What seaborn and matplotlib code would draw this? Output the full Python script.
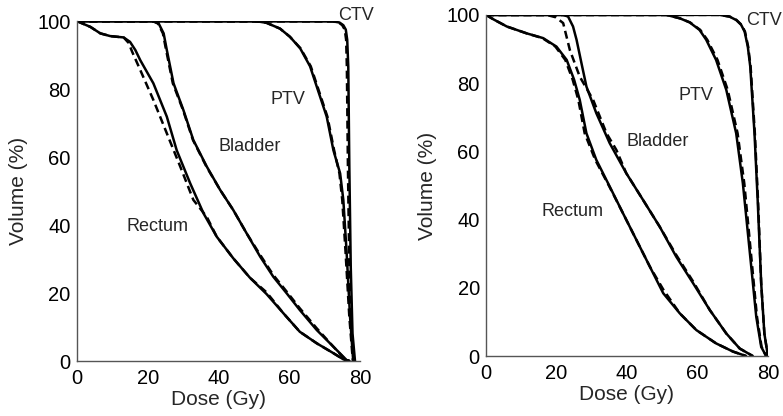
import numpy as np
import pandas as pd
import seaborn as sns
import matplotlib.pyplot as plt

sns.set_theme(style="white")
plt.rcParams['font.family'] = ['Liberation Sans', 'DejaVu Sans']

# ---- left panel (dose in Gy, volume in %) ----
L_rectum_x = [0, 3.8, 6.6, 9.4, 13.2, 15, 16.5, 17.9, 21.6, 25.4, 28.2, 32, 35.8, 39.5, 44.2, 48.9, 53.6, 58.4, 63, 67.8, 72.5, 75.3, 77]
L_rectum_y = [100, 98.3, 96.4, 95.6, 95.2, 93.9, 91.5, 88.5, 81.7, 71.9, 62, 52.3, 43.4, 36.6, 30.2, 24.5, 19.7, 14, 8.6, 5.2, 2.3, 0.5, 0]
L_rectum_dx = [0, 3.8, 6.6, 9.4, 13.2, 14.6, 15.6, 17.9, 21.6, 25.4, 29.2, 32.9, 36.7, 39.5, 44.2, 48.9, 53.6, 58.4, 63, 67.8, 72.5, 75.3, 77]
L_rectum_dy = [100, 98.3, 96.4, 95.6, 95.2, 93.6, 91, 85.6, 76.8, 67, 57.2, 47.4, 42.4, 36.6, 30.2, 24.5, 20.2, 14, 8.6, 5.2, 2.3, 0.5, 0]

L_bladder_x = [0, 21.6, 23.1, 24.5, 25.4, 27.3, 30.1, 32.9, 36.7, 40.5, 44.2, 48, 51.8, 55.5, 59.3, 63, 67.8, 72.5, 76.2, 77]
L_bladder_y = [100, 100, 99.3, 96.4, 91.5, 81.7, 73.8, 65, 57.2, 50.3, 44.4, 37.5, 30.7, 24.8, 19.9, 15, 9.1, 4.2, 0.3, 0]
L_bladder_dx = [0, 21.4, 22.9, 24.3, 25.2, 27.1, 30, 32.8, 36.6, 40.5, 44.2, 48, 51.8, 55.5, 59.3, 63, 67.8, 72.5, 76, 77]
L_bladder_dy = [100, 100, 99.3, 96.4, 91.5, 81.7, 73.8, 65, 57.2, 50.3, 44.4, 37.5, 31.2, 25.3, 20.4, 15.5, 9.6, 4.2, 0.3, 0]

L_ptv_x = [0, 49.9, 51.8, 53.6, 57.4, 60.2, 63.1, 65.9, 67.8, 70.6, 72.5, 74.4, 75.3, 76.2, 77.2, 78.1]
L_ptv_y = [100, 100, 99.8, 99.5, 97.8, 95.4, 92, 86.7, 80.7, 71.9, 62, 55.2, 47.4, 32.6, 13, 0]
L_ptv_dx = [0, 49.9, 51.8, 53.6, 57.4, 60.2, 63.2, 66.1, 68, 70.8, 72.7, 74.2, 75, 75.9, 77, 78]
L_ptv_dy = [100, 100, 99.8, 99.5, 97.8, 95.4, 92, 86.7, 80.7, 71.9, 62, 55.2, 47.4, 32.6, 13, 0]

L_ctv_x = [0, 72.5, 74.2, 75.3, 76, 76.4, 76.7, 77, 77.4, 77.9, 78.6]
L_ctv_y = [100, 99.9, 99.6, 98.8, 97.5, 94.5, 86.6, 57.2, 27.7, 8.1, 0]
L_ctv_dx = [0, 72.3, 74, 75, 75.7, 76.1, 76.3, 76.6, 77, 77.6, 78.4]
L_ctv_dy = [100, 99.9, 99.6, 98.8, 97.5, 94.5, 86.6, 57.2, 27.7, 8.1, 0]

# ---- right panel ----
R_rectum_x = [0, 2.1, 5.9, 11.5, 16.2, 20, 22.9, 25, 26.6, 28.5, 31.3, 35.1, 38.9, 42.7, 46.5, 50.3, 55, 59.7, 65.3, 70.1, 73.8]
R_rectum_y = [100, 98.7, 96.6, 94.6, 93.2, 90.7, 86.8, 81, 75.1, 65.3, 57.5, 49.7, 41.8, 34, 26.2, 18.4, 12.5, 7.6, 3.7, 1.3, 0]
R_rectum_dx = [0, 2.1, 5.9, 11.5, 16, 19.7, 22.5, 24.6, 26.2, 28, 31, 35, 38.9, 42.7, 46.5, 50.3, 55, 59.7, 65.3, 70.1, 73.8]
R_rectum_dy = [100, 98.7, 96.6, 94.6, 93.2, 90.7, 86.8, 81, 75.1, 65.3, 57.5, 49.7, 41.8, 34, 26.2, 19.5, 12.5, 7.6, 3.7, 1.3, 0]

R_bladder_x = [0, 21.9, 23.3, 24.7, 25.7, 27.1, 28.5, 31.3, 35.1, 39.8, 44.6, 49.3, 54, 58.8, 63.5, 68.2, 72, 75.7]
R_bladder_y = [100, 100, 99.5, 96.6, 92.7, 85.8, 79, 71.2, 62.4, 53.6, 45.7, 37.9, 29.1, 21.3, 13.5, 6.6, 2.2, 0]
R_bladder_dx = [0, 17.2, 19.8, 21.9, 23.8, 26.6, 30.4, 34.2, 37, 39.8, 44.6, 49.3, 54, 58.8, 63.5, 68.2, 72, 75.7]
R_bladder_dy = [100, 100, 99.3, 97.6, 89.7, 81.9, 75.1, 65.3, 60.4, 53.6, 45.7, 37.9, 29.6, 21.8, 13.5, 6.6, 2.2, 0]

R_ptv_x = [0, 51.2, 55, 57.8, 60.6, 62.5, 65.3, 68.2, 71, 72.9, 74.8, 76.7, 78.1, 79.5]
R_ptv_y = [100, 100, 99, 97.8, 95.6, 92.7, 86.8, 78, 65.3, 50.6, 31.1, 11.5, 2.7, 0]
R_ptv_dx = [0, 51.2, 55, 57.9, 60.8, 62.8, 65.7, 68.6, 71.4, 73.3, 75.1, 76.9, 78.2, 79.5]
R_ptv_dy = [100, 100, 99, 97.8, 95.6, 92.7, 86.8, 78, 65.3, 50.6, 31.1, 11.5, 2.7, 0]

R_ctv_x = [0, 66.3, 69.1, 71, 72.4, 73.4, 74.3, 75, 76.2, 77.1, 78.1, 79, 80]
R_ctv_y = [100, 100, 99.5, 98.5, 97.1, 95.1, 90.7, 84.8, 65.3, 45.7, 21.3, 6.6, 0]
R_ctv_dx = [0, 66.3, 69.2, 71.1, 72.5, 73.5, 74.4, 75.1, 76.3, 77.2, 78.1, 79, 80]
R_ctv_dy = [100, 100, 99.5, 98.5, 97.1, 95.1, 90.7, 84.8, 65.3, 45.7, 21.3, 6.6, 0]

L_curves = [(L_rectum_x, L_rectum_y, L_rectum_dx, L_rectum_dy),
            (L_bladder_x, L_bladder_y, L_bladder_dx, L_bladder_dy),
            (L_ptv_x, L_ptv_y, L_ptv_dx, L_ptv_dy),
            (L_ctv_x, L_ctv_y, L_ctv_dx, L_ctv_dy)]
R_curves = [(R_rectum_x, R_rectum_y, R_rectum_dx, R_rectum_dy),
            (R_bladder_x, R_bladder_y, R_bladder_dx, R_bladder_dy),
            (R_ptv_x, R_ptv_y, R_ptv_dx, R_ptv_dy),
            (R_ctv_x, R_ctv_y, R_ctv_dx, R_ctv_dy)]

labels = ['Rectum', 'Bladder', 'PTV', 'CTV']
L_label_pos = [(14.1, 39.5), (40, 63), (54.6, 76.8), (73.8, 101.8)]
R_label_pos = [(15.8, 42.3), (39.8, 62.9), (54.5, 76.5), (73.8, 98.5)]

fig = plt.figure(figsize=(7.83, 4.16), dpi=100)
ax1 = fig.add_axes([0.0983, 0.1322, 0.3614, 0.817])
ax2 = fig.add_axes([0.6207, 0.1442, 0.360, 0.820])


def draw_panel(ax, curves, label_pos):
    for x, y, dx, dy in curves:
        sns.lineplot(x=dx, y=dy, ax=ax, color='black', lw=1.8,
                     linestyle=(0, (3.2, 1.8)), sort=False, estimator=None)
        sns.lineplot(x=x, y=y, ax=ax, color='black', lw=1.8,
                     sort=False, estimator=None)
    for name, (tx, ty) in zip(labels, label_pos):
        ax.text(tx, ty, name, fontsize=13, va='center', ha='left',
                clip_on=False)
    ax.set_xlim(0, 80)
    ax.set_ylim(0, 100)
    ax.set_xticks([0, 20, 40, 60, 80])
    ax.set_yticks([0, 20, 40, 60, 80, 100])
    ax.set_xlabel('Dose (Gy)', fontsize=15, labelpad=1)
    ax.set_ylabel('Volume (%)', fontsize=15, labelpad=7)
    ax.tick_params(axis='both', labelsize=14.5, colors='black', length=2.5,
                   width=0.8)
    ax.tick_params(axis='x', direction='in', pad=6)
    ax.tick_params(axis='y', direction='out', pad=2)
    for s in ['top', 'right']:
        ax.spines[s].set_visible(False)
    for s in ['left', 'bottom']:
        ax.spines[s].set_color('#555555')
        ax.spines[s].set_linewidth(1.0)
    ax.set_facecolor('white')


draw_panel(ax1, L_curves, L_label_pos)
draw_panel(ax2, R_curves, R_label_pos)

fig.savefig('out.png', dpi=100, facecolor='white')
